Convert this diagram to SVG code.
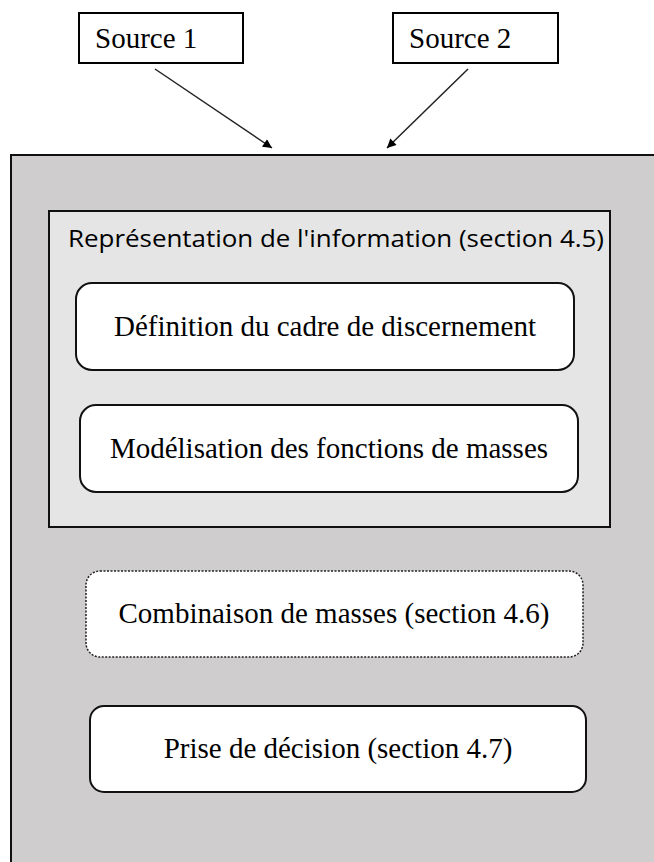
<svg xmlns="http://www.w3.org/2000/svg" width="654" height="862" viewBox="0 0 654 862">
<style>
.src{fill:#fff;stroke:#000;stroke-width:2}
.box{fill:#fff;stroke:#111;stroke-width:2}
.serif{font-family:"Liberation Serif","Times New Roman",serif;font-size:29px;fill:#000}
.sans{font-family:"Open Sans","Noto Sans",sans-serif;font-size:24px;fill:#000}
.conn{stroke:#222;stroke-width:1.5;fill:none}
</style>
<defs>
<marker id="ah" viewBox="0 0 10 10" refX="10" refY="5" markerWidth="10" markerHeight="9" markerUnits="userSpaceOnUse" orient="auto">
<path d="M0,0 L10,5 L0,10 z" fill="#000"/>
</marker>
</defs>
<rect width="654" height="862" fill="#fff"/>
<g id="outer">
<rect x="11" y="155" width="660" height="720" fill="#cfcdce" stroke="#111" stroke-width="2"/>
</g>
<g id="source1">
<rect class="src" x="79" y="13" width="164" height="50"/>
<text class="serif" x="95" y="48">Source 1</text>
</g>
<g id="source2">
<rect class="src" x="393" y="13" width="165" height="50"/>
<text class="serif" x="409" y="48">Source 2</text>
</g>
<g id="connectors">
<line class="conn" x1="155" y1="69" x2="272" y2="148" marker-end="url(#ah)"/>
<line class="conn" x1="468" y1="69" x2="387" y2="148" marker-end="url(#ah)"/>
</g>
<g id="representation">
<rect x="49" y="211" width="561" height="316" fill="#e5e5e5" stroke="#111" stroke-width="2"/>
<text class="sans" x="68" y="247" textLength="536" lengthAdjust="spacingAndGlyphs">Représentation de l'information (section 4.5)</text>
</g>
<g id="definition">
<rect class="box" x="76" y="283" width="498" height="87" rx="16"/>
<text class="serif" x="325" y="336" text-anchor="middle">Définition du cadre de discernement</text>
</g>
<g id="modelisation">
<rect class="box" x="80" y="405" width="498" height="87" rx="16"/>
<text class="serif" x="329" y="458" text-anchor="middle">Modélisation des fonctions de masses</text>
</g>
<g id="combinaison">
<rect x="86" y="571" width="497" height="86" rx="14" fill="#fff" stroke="#222" stroke-width="1.5" stroke-dasharray="2 1.5"/>
<text class="serif" x="334" y="623" text-anchor="middle">Combinaison de masses (section 4.6)</text>
</g>
<g id="decision">
<rect class="box" x="90" y="706" width="496" height="86" rx="14"/>
<text class="serif" x="338" y="758" text-anchor="middle">Prise de décision (section 4.7)</text>
</g>
</svg>
